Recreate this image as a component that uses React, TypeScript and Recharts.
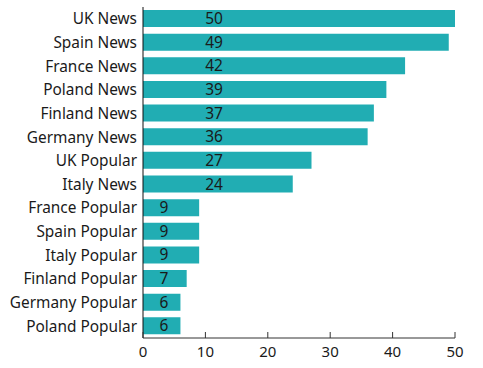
import { BarChart, Bar, XAxis, YAxis, LabelList } from 'recharts';

const categories = [
  'UK News', 'Spain News', 'France News', 'Poland News', 'Finland News', 'Germany News',
  'UK Popular', 'Italy News', 'France Popular', 'Spain Popular', 'Italy Popular',
  'Finland Popular', 'Germany Popular', 'Poland Popular',
];
const values = [50, 49, 42, 39, 37, 36, 27, 24, 9, 9, 9, 7, 6, 6];
const xTicks = [0, 10, 20, 30, 40, 50];

const data = categories.map((name, i) => ({ name, value: values[i] }));

const FONT = '"Noto Sans", sans-serif';
const TEXT = '#1a1a1a';
const BAR = '#21adb3';

function XTick(props: any) {
  const { x, y, payload } = props;
  return (
    <g>
      <line x1={x} x2={x} y1={y - 6} y2={y} stroke="#333" strokeWidth={1} />
      <text x={x} y={y + 19} textAnchor="middle" fontSize={15} fill={TEXT} fontFamily={FONT}>
        {payload.value}
      </text>
    </g>
  );
}

function ValueLabel(props: any) {
  const { x, y, height, value } = props;
  const cx = x + (value >= 10 ? 71 : 21);
  return (
    <text x={cx} y={y + height / 2 + 5.5} textAnchor="middle" fontSize={15.5} fill={TEXT} fontFamily={FONT}>
      {value}
    </text>
  );
}

export default function App() {
  return (
    <div style={{ position: 'absolute', left: 0, top: 0, background: '#fff' }}>
      <BarChart
        width={483}
        height={368}
        data={data}
        layout="vertical"
        margin={{ top: 7, right: 28, left: 0, bottom: 6 }}
      >
        <XAxis
          type="number"
          domain={[0, 50]}
          ticks={xTicks}
          tickSize={0}
          tickMargin={0}
          tick={<XTick />}
          axisLine={{ stroke: '#333' }}
          height={24}
        />
        <YAxis
          type="category"
          dataKey="name"
          width={143}
          tickLine={false}
          tickSize={0}
          axisLine={{ stroke: '#111' }}
          tickMargin={6}
          interval={0}
          tick={{ fontSize: 15.4, fill: TEXT, fontFamily: FONT }}
        />
        <Bar dataKey="value" fill={BAR} barSize={17} isAnimationActive={false}>
          <LabelList dataKey="value" content={<ValueLabel />} />
        </Bar>
      </BarChart>
    </div>
  );
}
